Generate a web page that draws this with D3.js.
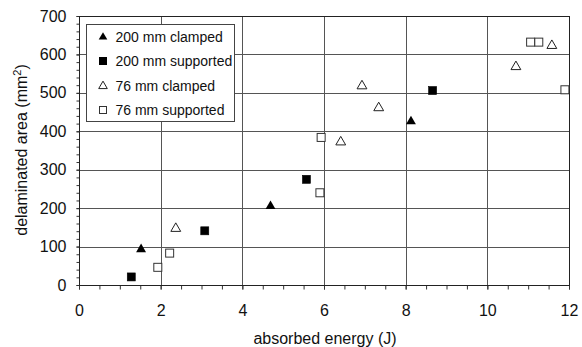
<!DOCTYPE html>
<html>
<head>
<meta charset="utf-8">
<script src="https://cdn.jsdelivr.net/npm/d3@7"></script>
<style>
  html, body { margin: 0; padding: 0; background: #fff; }
  svg { display: block; font-family: "Liberation Sans", Arial, sans-serif; }
</style>
</head>
<body>
<svg id="chart" width="582" height="347"></svg>
<script>
// Impact test results: absorbed energy (J) vs delaminated area (mm²)
const clamped200X = [1.52, 4.69, 8.13];
const clamped200Y = [95, 207, 428];
const supported200X = [1.28, 3.08, 5.57, 8.66];
const supported200Y = [21, 141, 275, 506];
const clamped76X = [2.37, 6.41, 6.93, 7.34, 10.70, 11.58];
const clamped76Y = [149, 374, 520, 463, 570, 625];
const supported76X = [1.93, 2.22, 5.90, 5.93, 11.06, 11.26, 11.90];
const supported76Y = [46, 83, 240, 384, 632, 632, 508];

const xTicks = [0, 2, 4, 6, 8, 10, 12];
const yTicks = [0, 100, 200, 300, 400, 500, 600, 700];
const seriesNames = ["200 mm clamped", "200 mm supported", "76 mm clamped", "76 mm supported"];

const margin = { left: 79, right: 13, top: 16, bottom: 62 };
const W = 582, H = 347;
const svg = d3.select("#chart");

const x = d3.scaleLinear().domain([0, 12]).range([margin.left, W - margin.right]);
const y = d3.scaleLinear().domain([0, 700]).range([H - margin.bottom, margin.top]);

const px = v => Math.round(v) + 0.5;

// grid
const grid = svg.append("g").attr("stroke", "#555").attr("stroke-width", 1);
grid.selectAll("line.v").data(xTicks.slice(1, -1)).join("line")
  .attr("x1", d => px(x(d))).attr("x2", d => px(x(d)))
  .attr("y1", y(700)).attr("y2", y(0));
grid.selectAll("line.h").data(yTicks.slice(1, -1)).join("line")
  .attr("y1", d => px(y(d))).attr("y2", d => px(y(d)))
  .attr("x1", x(0)).attr("x2", x(12));

// axes with minor ticks
const xMinor = d3.range(0, 12.01, 0.5);
const yMinor = d3.range(0, 700.01, 20);
const xAxis = svg.append("g").attr("transform", `translate(0,${px(y(0))})`);
xAxis.call(d3.axisBottom(x).tickValues(xMinor).tickSize(4).tickFormat(""));
const xLab = svg.append("g").attr("transform", `translate(0,${px(y(0))})`);
xLab.call(d3.axisBottom(x).tickValues(xTicks).tickSize(4).tickPadding(15).tickFormat(d3.format("d")));
const yAxis = svg.append("g").attr("transform", `translate(${px(x(0))},0)`);
yAxis.call(d3.axisLeft(y).tickValues(yMinor).tickSize(3).tickFormat(""));
const yLab = svg.append("g").attr("transform", `translate(${px(x(0))},0)`);
yLab.call(d3.axisLeft(y).tickValues(yTicks).tickSize(3).tickPadding(10).tickFormat(d3.format("d")));
[xAxis, xLab, yAxis, yLab].forEach(g => {
  g.select(".domain").remove();
  g.selectAll("line").attr("stroke", "#333");
  g.selectAll("text").attr("font-size", 16).attr("fill", "#111").attr("font-family", null);
});

// plot frame
svg.append("rect")
  .attr("x", px(x(0))).attr("y", px(y(700)))
  .attr("width", Math.round(x(12)) - Math.round(x(0))).attr("height", Math.round(y(0)) - Math.round(y(700)))
  .attr("fill", "none").attr("stroke", "#222").attr("stroke-width", 1);

// markers
const tri = d3.symbol().type(d3.symbolTriangle).size(42);
function drawTriangles(xs, ys, filled) {
  svg.append("g").selectAll("path").data(xs.map((v, i) => [v, ys[i]])).join("path")
    .attr("d", tri)
    .attr("transform", d => `translate(${x(d[0])},${y(d[1]) + 0.8})`)
    .attr("fill", filled ? "#000" : "#fff")
    .attr("stroke", filled ? "none" : "#222").attr("stroke-width", 1);
}
function drawSquares(xs, ys, filled) {
  const s = 8;
  svg.append("g").selectAll("rect").data(xs.map((v, i) => [v, ys[i]])).join("rect")
    .attr("x", d => x(d[0]) - s / 2).attr("y", d => y(d[1]) - s / 2)
    .attr("width", s).attr("height", s)
    .attr("fill", filled ? "#000" : "#fff")
    .attr("stroke", filled ? "#000" : "#333").attr("stroke-width", filled ? 0.6 : 1);
}
drawSquares(supported76X, supported76Y, false);
drawTriangles(clamped76X, clamped76Y, false);
drawSquares(supported200X, supported200Y, true);
drawTriangles(clamped200X, clamped200Y, true);

// axis titles
svg.append("text").attr("x", (x(0) + x(12)) / 2 + 1).attr("y", 344)
  .attr("text-anchor", "middle").attr("font-size", 16).attr("fill", "#111")
  .text("absorbed energy (J)");
const yt = svg.append("text").attr("transform", "translate(27,150) rotate(-90)")
  .attr("text-anchor", "middle").attr("font-size", 16).attr("fill", "#111");
yt.append("tspan").text("delaminated area (mm");
yt.append("tspan").attr("font-size", 11).attr("baseline-shift", "super").text("2");
yt.append("tspan").text(")");

// legend
const lg = svg.append("g");
lg.append("rect").attr("x", 86.5).attr("y", 24.5).attr("width", 148).attr("height", 97)
  .attr("fill", "#fff").attr("stroke", "#444").attr("stroke-width", 1);
const rowY = [41.5, 66, 90.5, 115];
const ltri = d3.symbol().type(d3.symbolTriangle).size(32);
seriesNames.forEach((name, i) => {
  const cy = rowY[i] - 5;
  const filled = i < 2;
  if (i % 2 === 0) {
    lg.append("path").attr("d", ltri).attr("transform", `translate(103,${cy + 0.6})`)
      .attr("fill", filled ? "#000" : "#fff").attr("stroke", filled ? "none" : "#222");
  } else {
    lg.append("rect").attr("x", 99.5).attr("y", cy - 3.5).attr("width", 7).attr("height", 7)
      .attr("fill", filled ? "#000" : "#fff").attr("stroke", filled ? "#000" : "#333");
  }
  lg.append("text").attr("x", 115.5).attr("y", rowY[i]).attr("font-size", 14).attr("fill", "#111").text(name);
});
</script>
</body>
</html>
